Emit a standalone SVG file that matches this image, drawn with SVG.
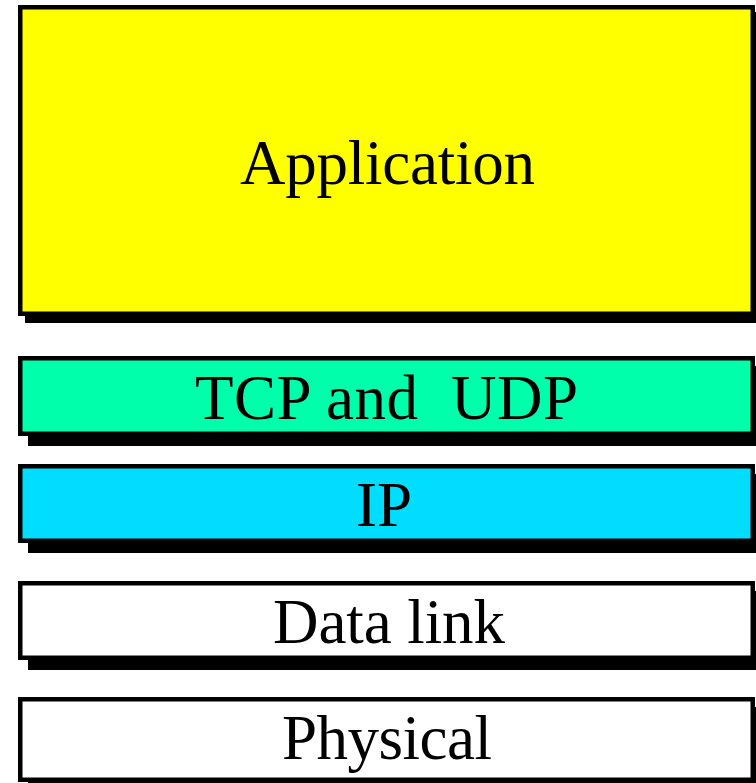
<svg xmlns="http://www.w3.org/2000/svg" width="756" height="783" viewBox="0 0 756 783">
<style>
.box{stroke:#000;stroke-width:4.5}
.sh{fill:#000}
.lbl{font-family:"Liberation Serif","Times New Roman",serif;font-size:63px;fill:#000;text-anchor:middle}
</style>
<rect width="756" height="783" fill="#fff"/>
<g id="application">
<rect class="sh" x="25" y="12" width="737" height="311"/>
<rect class="box" x="20.25" y="7.25" width="732.5" height="306.5" fill="#ffff00"/>
<text class="lbl" x="387.5" y="184" textLength="295">Application</text>
</g>
<g id="tcp-udp">
<rect class="sh" x="28" y="366" width="737" height="80"/>
<rect class="box" x="20.25" y="358.25" width="732.5" height="75.5" fill="#00ffaa"/>
<text class="lbl" x="386.5" y="419" textLength="383" xml:space="preserve">TCP and  UDP</text>
</g>
<g id="ip">
<rect class="sh" x="28" y="474" width="737" height="79"/>
<rect class="box" x="20.25" y="466.25" width="732.5" height="74.5" fill="#00ddff"/>
<text class="lbl" x="384" y="526" textLength="56">IP</text>
</g>
<g id="data-link">
<rect class="sh" x="28" y="591" width="737" height="79"/>
<rect class="box" x="20.25" y="583.25" width="732.5" height="74.5" fill="#ffffff"/>
<text class="lbl" x="389" y="643" textLength="232">Data link</text>
</g>
<g id="physical">
<rect class="sh" x="28" y="707" width="737" height="85"/>
<rect class="box" x="20.25" y="699.25" width="732.5" height="80.5" fill="#ffffff"/>
<text class="lbl" x="387" y="759" textLength="210">Physical</text>
</g>
<g id="connectors"></g>
</svg>
